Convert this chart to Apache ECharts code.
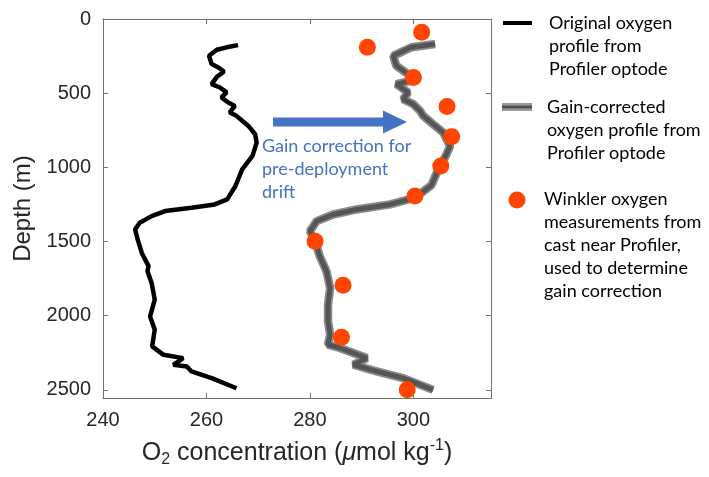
<!DOCTYPE html>
<html><head><meta charset="utf-8">
<script src="https://cdn.jsdelivr.net/npm/echarts@6/dist/echarts.min.js"></script>
<style>html,body{margin:0;padding:0;background:#fff}#c{width:709px;height:477px}</style>
</head><body><div id="c"></div>
<script>
// Original oxygen profile (black)
const origDepth = [176,191,207,248,304,327,354,390,439,462,495,529,563,586,630,653,721,777,833,923,1014,1126,1216,1250,1273,1295,1329,1374,1419,1486,1577,1666,1700,1779,1892,2005,2095,2207,2264,2286,2331,2343,2376,2421,2489];
const origO2   = [266.1,263.9,262.0,260.5,261.0,262.3,263.4,262.0,261.0,262.6,263.9,262.9,264.2,265.5,264.5,265.8,268.1,269.4,269.7,268.9,266.9,265.6,264.0,261.6,257.1,252.0,249.4,247.1,246.2,246.7,247.5,248.8,248.6,249.4,250.0,249.1,250.0,249.5,251.7,255.5,253.6,256.2,257.1,261.0,265.8];
// Gain-corrected profile (gray)
const corrDepth = [169,191,248,315,372,405,439,495,541,574,620,653,709,766,811,856,912,1030,1120,1205,1250,1284,1318,1363,1430,1498,1599,1700,1813,1926,2038,2128,2196,2218,2286,2331,2376,2421,2500];
const corrO2   = [304.2,299.6,296.1,296.7,299.0,300.9,296.7,299.0,298.0,300.0,301.3,301.9,303.8,305.8,306.4,307.1,306.4,304.6,303.5,300.3,295.5,289.0,284.5,281.3,280.0,281.0,281.9,283.2,283.9,283.5,283.5,283.9,283.5,285.8,291.0,288.4,292.9,298.0,303.8];
// Winkler measurements (orange)
const winklerDepth = [90,191,394,590,793,991,1194,1498,1795,2146,2500];
const winklerO2    = [301.6,291.1,300.0,306.5,307.4,305.3,300.3,281.0,286.4,286.1,298.8];
// Tick labels
const xTicks = [240,260,280,300];
const yTicks = [0,500,1000,1500,2000,2500];

function zip(xs, ys){ return xs.map((x,i)=>[x, ys[i]]); }

const AX_FONT = "'Liberation Sans', Arial, sans-serif";
const TXT_FONT = "Lato, 'Noto Sans', sans-serif";
const axisLineStyle = {color:'#707070', width:1};

const chart = echarts.init(document.getElementById('c'), null, {renderer:'canvas'});
const xCommon = {type:'value', min:240, max:315, interval:20, splitLine:{show:false},
  axisLine:{show:true, onZero:false, lineStyle:axisLineStyle},
  axisTick:{show:true, inside:true, length:5, lineStyle:axisLineStyle}};
const yCommon = {type:'value', min:0, max:2555, interval:500, inverse:true, splitLine:{show:false},
  axisLine:{show:true, onZero:false, lineStyle:axisLineStyle},
  axisTick:{show:true, inside:true, length:5, lineStyle:axisLineStyle}};

const option = {
  animation:false,
  backgroundColor:'#fff',
  grid:{left:103, right:218, top:19, bottom:79, containLabel:false},
  xAxis:[
    Object.assign({}, xCommon, {position:'bottom',
      axisLabel:{show:true, margin:12, color:'#262626', fontSize:20, fontFamily:AX_FONT,
        formatter:v=> xTicks.includes(v) ? String(v) : ''},
      name:'{a|O}{sub|2}{a| concentration (}{i|μ}{a|mol kg}{sup|-1}{a|)}',
      nameLocation:'middle', nameGap:40,
      nameTextStyle:{color:'#262626', fontFamily:AX_FONT, fontSize:25,
        rich:{
          a:{fontSize:25, fontFamily:AX_FONT, color:'#262626', lineHeight:30, verticalAlign:'middle'},
          i:{fontSize:25, fontFamily:AX_FONT, color:'#262626', fontStyle:'italic', lineHeight:30, verticalAlign:'middle'},
          sub:{fontSize:16, fontFamily:AX_FONT, color:'#262626', lineHeight:16, verticalAlign:'bottom'},
          sup:{fontSize:16, fontFamily:AX_FONT, color:'#262626', lineHeight:16, verticalAlign:'top'}
        }}
    }),
    Object.assign({}, xCommon, {position:'top', axisLabel:{show:false}})
  ],
  yAxis:[
    Object.assign({}, yCommon, {position:'left',
      axisLabel:{show:true, margin:12, color:'#262626', fontSize:20, fontFamily:AX_FONT,
        formatter:v=> yTicks.includes(v) ? String(v) : ''},
      name:'Depth (m)', nameLocation:'middle', nameGap:68, nameRotate:90,
      nameTextStyle:{color:'#262626', fontSize:24, fontFamily:AX_FONT}
    }),
    Object.assign({}, yCommon, {position:'right', axisLabel:{show:false}})
  ],
  series:[
    {type:'line', name:'Original', data:zip(origO2, origDepth), showSymbol:false, symbol:'none',
      lineStyle:{color:'#000', width:4.5}, z:3},
    {type:'line', name:'Corrected band', data:zip(corrO2, corrDepth), showSymbol:false, symbol:'none',
      lineStyle:{color:'#8c8c8c', width:8.5}, z:2},
    {type:'line', name:'Corrected', data:zip(corrO2, corrDepth), showSymbol:false, symbol:'none',
      lineStyle:{color:'#555555', width:5}, z:3},
    {type:'scatter', name:'Winkler', data:zip(winklerO2, winklerDepth), symbol:'circle', symbolSize:17,
      itemStyle:{color:'#ff4500', opacity:1}, z:5}
  ],
  graphic:[
    {type:'polygon', z:10, shape:{points:[[273,117.5],[383,117.5],[383,110.5],[407,122],[383,133.5],[383,126.5],[273,126.5]]},
      style:{fill:'#4472c4'}},
    {type:'text', z:10, style:{text:'Gain correction for\npre-deployment\ndrift', x:262, y:135,
      fontSize:18, fontFamily:TXT_FONT, fill:'#4472c4', lineHeight:23, verticalAlign:'top', align:'left'}},
    {type:'line', z:10, shape:{x1:503,y1:23,x2:532,y2:23}, style:{stroke:'#000', lineWidth:4}},
    {type:'text', z:10, style:{text:'Original oxygen\nprofile from\nProfiler optode', x:549, y:12,
      fontSize:18, fontFamily:TXT_FONT, fill:'#000', lineHeight:23, verticalAlign:'top', align:'left'}},
    {type:'line', z:10, shape:{x1:502,y1:107,x2:532,y2:107}, style:{stroke:'#999', lineWidth:8}},
    {type:'line', z:11, shape:{x1:502,y1:107,x2:532,y2:107}, style:{stroke:'#505050', lineWidth:3}},
    {type:'text', z:10, style:{text:'Gain-corrected\noxygen profile from\nProfiler optode', x:547, y:96,
      fontSize:18, fontFamily:TXT_FONT, fill:'#000', lineHeight:23, verticalAlign:'top', align:'left'}},
    {type:'circle', z:10, shape:{cx:517, cy:200, r:8.5}, style:{fill:'#ff4500'}},
    {type:'text', z:10, style:{text:'Winkler oxygen\nmeasurements from\ncast near Profiler,\nused to determine\ngain correction', x:544, y:188,
      fontSize:18, fontFamily:TXT_FONT, fill:'#000', lineHeight:23, verticalAlign:'top', align:'left'}}
  ]
};
chart.setOption(option);
</script>
</body></html>
